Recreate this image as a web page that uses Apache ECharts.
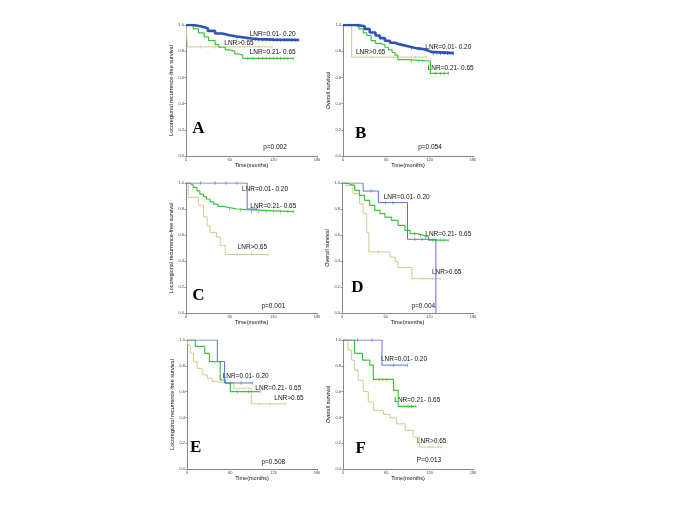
<!DOCTYPE html>
<html><head><meta charset="utf-8">
<script src="https://cdn.jsdelivr.net/npm/echarts@6/dist/echarts.min.js"></script>
<style>html,body{margin:0;padding:0;background:#fff}#c{width:685px;height:513px}</style>
</head><body><div id="c"></div>
<script>
// ---- data (time in months, survival probability) ----
const xTicks = [0, 60, 120, 180];
const yTicks = [0.0, 0.2, 0.4, 0.6, 0.8, 1.0];
const groupNames = ['LNR=0.01- 0.20', 'LNR=0.21- 0.65', 'LNR>0.65'];
const panelLetters = ['A', 'B', 'C', 'D', 'E', 'F'];
const pValues = ['p=0.002', 'p=0.054', 'p=0.001', 'p=0.004', 'p=0.508', 'P=0.013'];
const yTitles = ['Locoregional recurrence-free survival', 'Overall survival',
                 'Locoregional recurrence-free survival', 'Overall survival',
                 'Locoregional recurrence-free survival', 'Overall survival'];

const A_low_t = [0,10,20,30,40,50,60,70,80,90,100,120,155];
const A_low_s = [1,0.99,0.975,0.955,0.935,0.922,0.912,0.905,0.897,0.892,0.888,0.885,0.885];
const A_mid_t = [0,7,10,17,25,31,40,45,54,60,67,72,78,148];
const A_mid_s = [1,0.99,0.97,0.94,0.91,0.88,0.85,0.83,0.81,0.80,0.78,0.77,0.745,0.745];
const A_high_t = [0,2,118];
const A_high_s = [1,0.833,0.833];

const B_low_t = [0,20,30,37,45,51,58,65,72,79,90,100,109,116,122,153];
const B_low_s = [1,0.99,0.97,0.943,0.92,0.9,0.88,0.864,0.852,0.838,0.825,0.818,0.81,0.795,0.785,0.785];
const B_mid_t = [0,14,22,28,33,39,45,51,58,63,68,72,76,88,121,146];
const B_mid_s = [1,0.99,0.97,0.94,0.92,0.88,0.86,0.85,0.83,0.81,0.79,0.77,0.735,0.725,0.63,0.63];
const B_high_t = [0,12,116];
const B_high_s = [1,0.755,0.755];

const C_low_t = [0,84,97];
const C_low_s = [1,0.8,0.8];
const C_mid_t = [0,4,10,15,19,24,28,33,38,44,51,60,70,83,148];
const C_mid_s = [1,0.985,0.966,0.94,0.915,0.895,0.877,0.855,0.838,0.82,0.81,0.80,0.795,0.78,0.78];
const C_high_t = [0,3,17,24,29,33,42,47,54,113];
const C_high_s = [1,0.89,0.83,0.74,0.67,0.62,0.585,0.52,0.45,0.45];

const D_low_t = [0,29,50,90,129];
const D_low_s = [1,0.938,0.849,0.567,0];
const D_mid_t = [0,6,11,17.5,24,31,38,45,52,59,68,77,86.5,93.5,103,112,119,146];
const D_mid_s = [1,0.99,0.982,0.944,0.905,0.867,0.828,0.79,0.764,0.738,0.713,0.674,0.636,0.61,0.597,0.585,0.56,0.56];
const D_high_t = [0,6,15,24,29,34,37,66,73,77,96,135];
const D_high_s = [1,0.98,0.918,0.84,0.764,0.62,0.47,0.43,0.395,0.35,0.264,0.264];

const E_low_t = [0,42,52,91];
const E_low_s = [1,0.833,0.667,0.667];
const E_mid_t = [0,11.5,24.5,31,46,53,60,101];
const E_mid_s = [1,0.95,0.897,0.832,0.69,0.665,0.6,0.6];
const E_high_t = [0,1.4,4.6,9,14,21,28,35,39,65,89,136];
const E_high_s = [1,0.96,0.897,0.832,0.78,0.73,0.704,0.678,0.665,0.626,0.505,0.505];

const F_low_t = [0,54,89];
const F_low_s = [1,0.805,0.805];
const F_mid_t = [0,16,27,37,42,70,76.5,101];
const F_mid_s = [1,0.896,0.844,0.805,0.694,0.61,0.486,0.486];
const F_high_t = [0,7,11.6,16,21,28,35,42,56,65,74,86,97,106,137];
const F_high_s = [1,0.922,0.844,0.766,0.688,0.6,0.519,0.455,0.423,0.397,0.35,0.3,0.247,0.17,0.17];

// censoring times
const A_low_c = [70,85,95,100,105,110,115,120,125,130,135,140,145,150,155];
const A_mid_c = [85,92,100,105,110,115,120,125,130,135,140,148];
const A_high_c = [20,40,60,80,100,118];
const B_low_c = [95,105,115,125,130,135,140,145,153];
const B_mid_c = [95,105,110,128,135,140,146];
const B_high_c = [40,70,100,116];
const C_low_c = [20,40,55,70,97];
const C_mid_c = [60,75,90,100,110,120,130,140,148];
const C_high_c = [70,90,113];
const D_low_c = [40,60,70,100,110];
const D_mid_c = [100,108,115,125,130,135,140,146];
const D_high_c = [50,110,125,135];
const E_low_c = [60,75,91];
const E_mid_c = [70,85,101];
const E_high_c = [100,115,136];
const F_low_c = [20,40,70,89];
const F_mid_c = [50,55,60,90,95,101];
const F_high_c = [120,137];
</script>
<script>
const chart = echarts.init(document.getElementById('c'), null, {renderer: 'canvas'});
const curves = [
  [[A_low_t,A_low_s,A_low_c],[A_mid_t,A_mid_s,A_mid_c],[A_high_t,A_high_s,A_high_c]],
  [[B_low_t,B_low_s,B_low_c],[B_mid_t,B_mid_s,B_mid_c],[B_high_t,B_high_s,B_high_c]],
  [[C_low_t,C_low_s,C_low_c],[C_mid_t,C_mid_s,C_mid_c],[C_high_t,C_high_s,C_high_c]],
  [[D_low_t,D_low_s,D_low_c],[D_mid_t,D_mid_s,D_mid_c],[D_high_t,D_high_s,D_high_c]],
  [[E_low_t,E_low_s,E_low_c],[E_mid_t,E_mid_s,E_mid_c],[E_high_t,E_high_s,E_high_c]],
  [[F_low_t,F_low_s,F_low_c],[F_mid_t,F_mid_s,F_mid_c],[F_high_t,F_high_s,F_high_c]]
];
const grids = [
  {left:186, top:25, width:131, height:131},
  {left:343, top:25, width:130, height:131},
  {left:186, top:183, width:131, height:130},
  {left:342, top:183, width:131, height:130},
  {left:187, top:340, width:130, height:129},
  {left:343, top:340, width:130, height:129}
];
const colors = ['#2e52b2', '#3cc43c', '#d8c690'];
const thinBlue = '#5a74cc';
const FONT = 'Liberation Sans';

function stepValue(ts, ss, t) {
  let v = ss[0];
  for (let i = 0; i < ts.length; i++) { if (ts[i] <= t) v = ss[i]; }
  return v;
}

const xAxis = [], yAxis = [], series = [];
grids.forEach((g, i) => {
  xAxis.push({
    gridIndex: i, type: 'value', min: 0, max: 180, interval: 60,
    name: 'Time(months)', nameLocation: 'middle', nameGap: 5,
    nameTextStyle: {fontSize: 5.5, fontFamily: FONT, color: '#111'},
    axisLine: {lineStyle: {color: '#888', width: 1}},
    axisTick: {length: 1.5, lineStyle: {color: '#888'}},
    axisLabel: {fontSize: 4, margin: 2, color: '#444', fontFamily: FONT},
    splitLine: {show: false}
  });
  yAxis.push({
    gridIndex: i, type: 'value', min: 0, max: 1, interval: 0.2,
    name: yTitles[i], nameLocation: 'middle', nameGap: 7, nameRotate: 90,
    nameTextStyle: {fontSize: 5.5, fontFamily: FONT, color: '#111'},
    axisLine: {show: true, lineStyle: {color: '#888', width: 1}},
    axisTick: {show: true, length: 1.5, lineStyle: {color: '#888'}},
    axisLabel: {fontSize: 4, margin: 2, color: '#444', fontFamily: FONT,
                formatter: v => v.toFixed(1)},
    splitLine: {show: false}
  });
  curves[i].forEach((cv, k) => {
    const [ts, ss, cs] = cv;
    const thick = (i < 2 && k === 0);
    const col = (k === 0 && !thick) ? thinBlue : colors[k];
    series.push({
      type: 'line', xAxisIndex: i, yAxisIndex: i, step: 'end',
      showSymbol: false, silent: true, animation: false,
      lineStyle: {color: col, width: thick ? 2.6 : (k === 1 ? 1.2 : 1)},
      data: ts.map((t, j) => [t, ss[j]]),
      z: 3 - k
    });
    series.push({
      type: 'scatter', xAxisIndex: i, yAxisIndex: i, silent: true, animation: false,
      symbol: 'rect', symbolSize: [0.8, 3.5],
      itemStyle: {color: col},
      data: cs.map(t => [t, stepValue(ts, ss, t)]),
      z: 3 - k
    });
  });
});

// annotation texts (pixel positions)
const labelPos = [
  [[272.7,34],[272.7,52.7],[239,43.3]],
  [[448.3,47.7],[450.7,68.3],[370.7,52.7]],
  [[265,189.3],[273.3,206],[252.3,247.7]],
  [[406.7,197.3],[448.3,234.3],[446.7,272.7]],
  [[245.7,376.7],[278.3,388.3],[289,398.3]],
  [[404,359],[417.3,400],[431.7,441.7]]
];
const pPos = [[275,147],[430,147],[273.3,306],[423.3,306],[273.3,462.3],[429,460]];
const letterPos = [[198.3,128.5],[360.7,134],[198.3,296],[357.3,287.3],[195.7,447.3],[360.7,448.3]];
const graphic = [];
labelPos.forEach((lp, i) => {
  lp.forEach((p, k) => {
    graphic.push({type: 'text', x: p[0], y: p[1], style: {
      text: groupNames[k], fontSize: 6.5, fontFamily: FONT, fill: '#111',
      textAlign: 'center', textVerticalAlign: 'middle'}});
  });
  graphic.push({type: 'text', x: pPos[i][0], y: pPos[i][1], style: {
    text: pValues[i], fontSize: 6.5, fontFamily: FONT, fill: '#111',
    textAlign: 'center', textVerticalAlign: 'middle'}});
  graphic.push({type: 'text', x: letterPos[i][0], y: letterPos[i][1], style: {
    text: panelLetters[i], fontSize: 17, fontWeight: 'bold', fontFamily: 'Liberation Serif', fill: '#000',
    textAlign: 'center', textVerticalAlign: 'middle'}});
});

chart.setOption({
  backgroundColor: '#fff', animation: false,
  grid: grids, xAxis, yAxis, series, graphic
});
</script>
</body></html>
